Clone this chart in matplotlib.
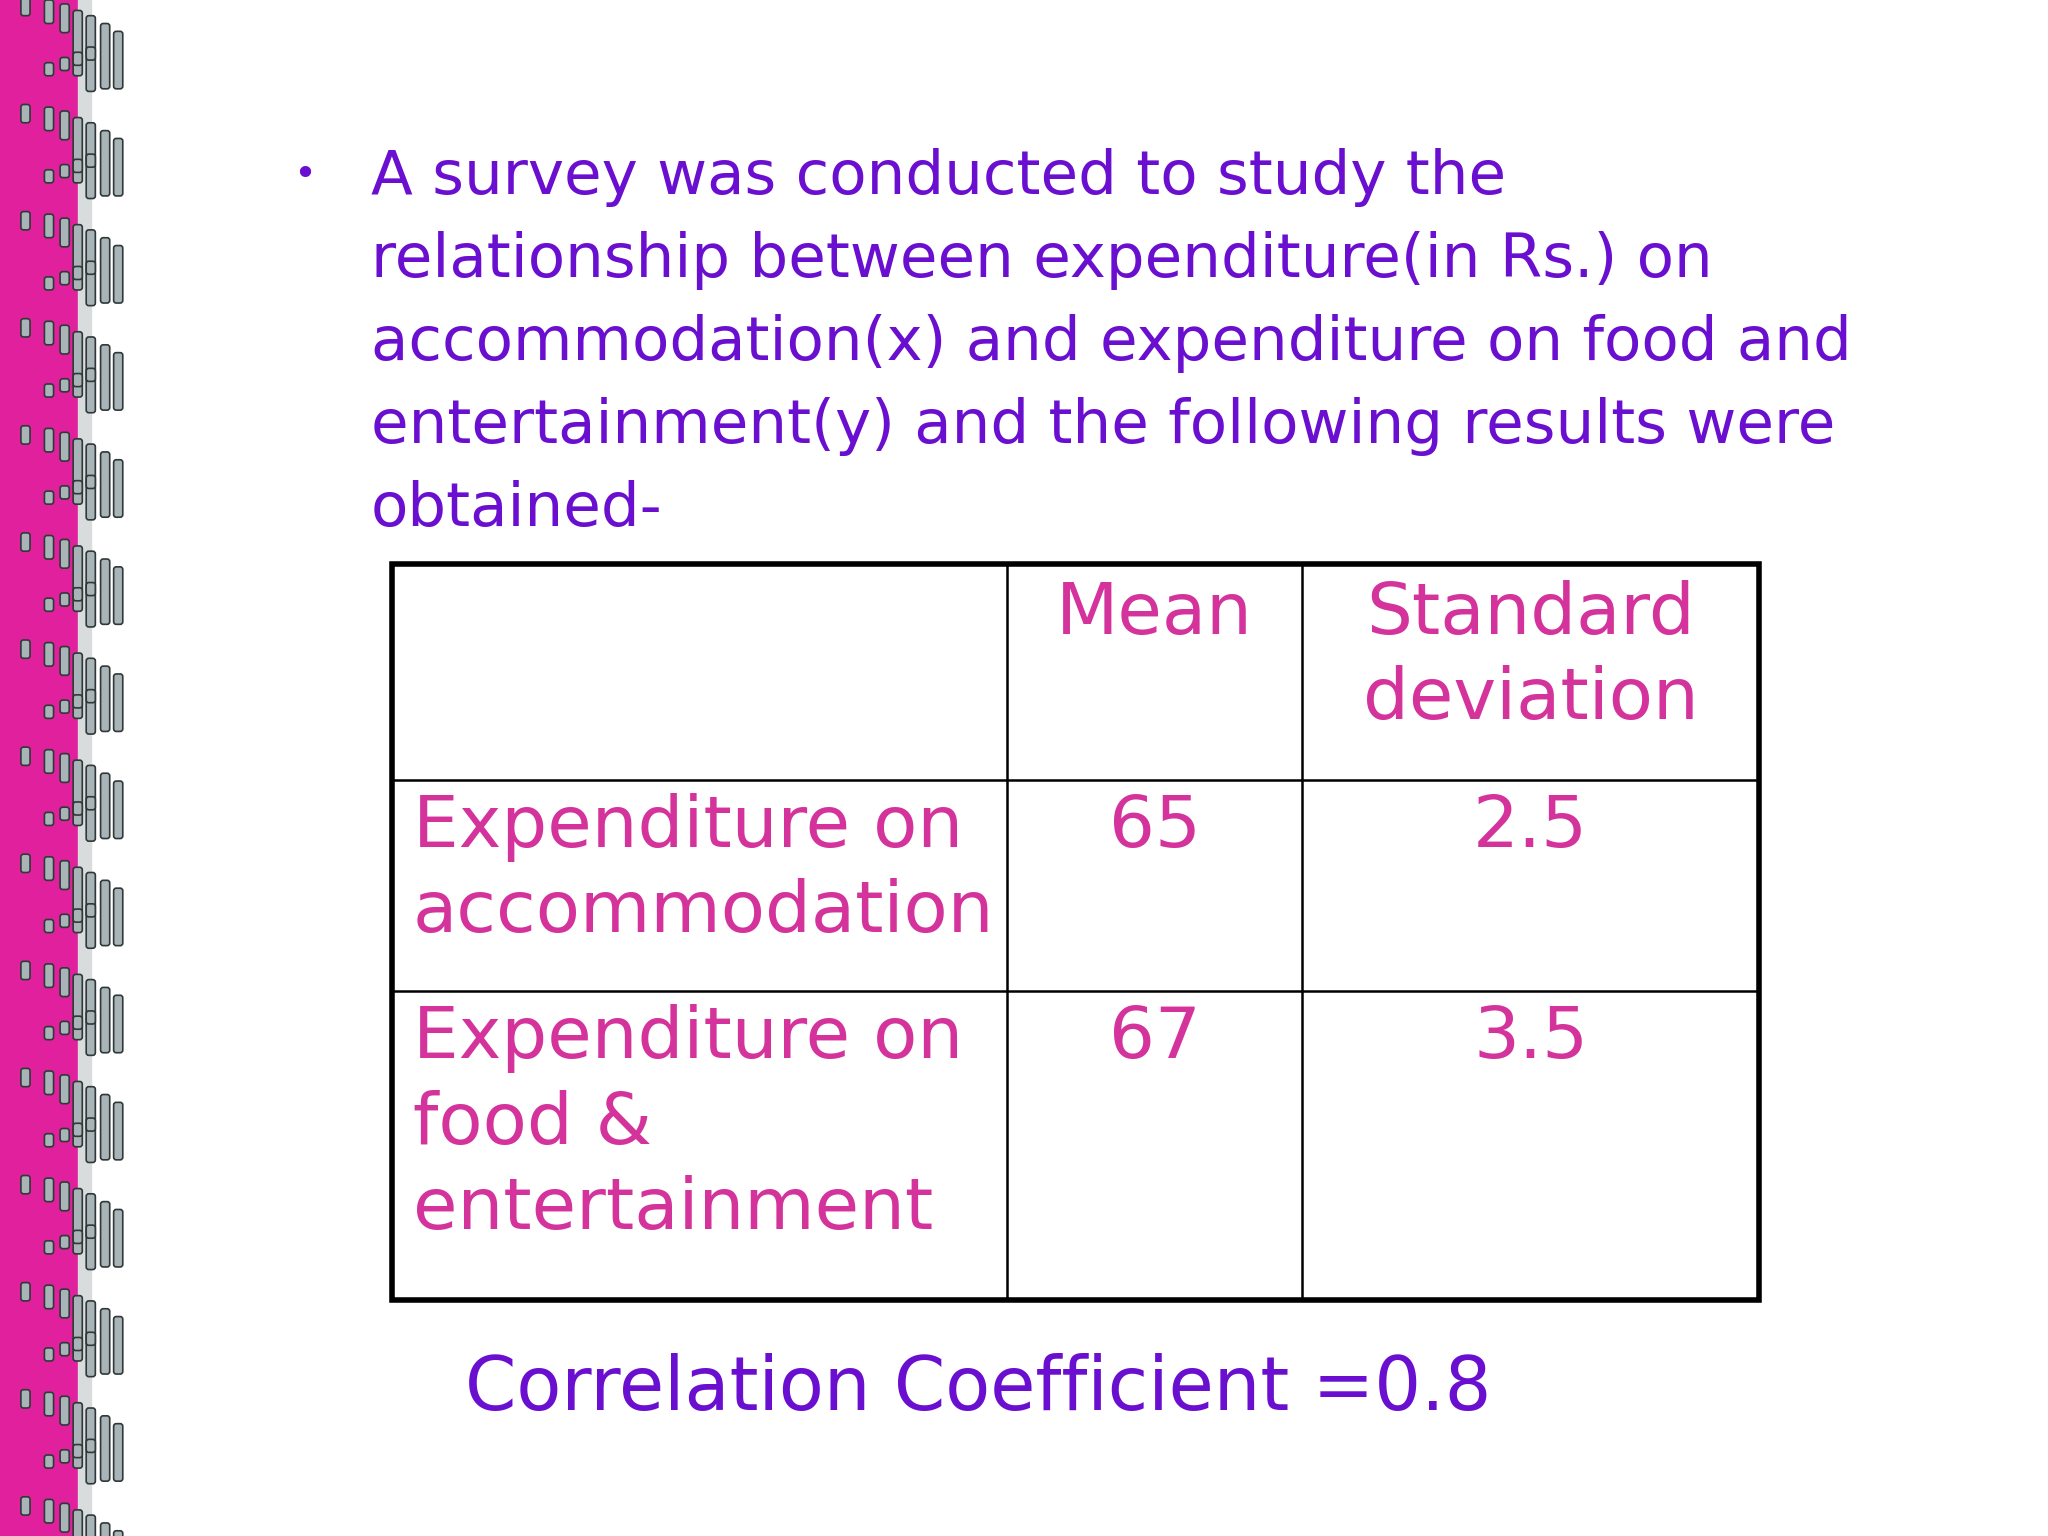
import matplotlib.pyplot as plt
from matplotlib.patches import Rectangle, FancyBboxPatch

# -----------------------------
# Slide content
# -----------------------------
intro_lines = [
    "A survey was conducted to study the",
    "relationship between expenditure(in Rs.) on",
    "accommodation(x) and expenditure on food and",
    "entertainment(y) and the following results were",
    "obtained-",
]
col_headers = ["", "Mean", "Standard\ndeviation"]
row_labels = ["Expenditure on\naccommodation", "Expenditure on\nfood &\nentertainment"]
means = [65, 67]
std_devs = [2.5, 3.5]
footer = "Correlation Coefficient =0.8"

PURPLE = "#6a0fd0"
MAGENTA = "#d4339c"
BORDER = "#e0209c"

W, H = 1568, 1176  # work in reference display units
fig = plt.figure(figsize=(20.48, 15.36), dpi=100)
ax = fig.add_axes([0, 0, 1, 1])
ax.set_xlim(0, W)
ax.set_ylim(H, 0)
ax.axis("off")
plt.rcParams['font.family'] = ['DejaVu Sans']

# -----------------------------
# Binding strip on the left
# -----------------------------
ax.add_patch(Rectangle((0, 0), 60, H, color=BORDER, zorder=1))
ax.add_patch(Rectangle((60, 0), 10, H, color="#d8dcdc", zorder=1))
bar_x = [16, 34, 46, 56, 66, 77, 87]
bar_top = [8, 10, 13, 18, 22, 28, 34]
bar_h = [14, 18, 22, 50, 58, 50, 44]
period = 82
y0 = -10
while y0 < H:
    for bx, bt, bh in zip(bar_x, bar_top, bar_h):
        ax.add_patch(FancyBboxPatch((bx, y0 + bt), 7, bh, boxstyle="round,pad=0,rounding_size=2",
                                    fc="#a8b4b8", ec="#303838", lw=1.2, zorder=2))
    for bx, bt in zip(bar_x[1:5], [58, 54, 50, 46]):
        ax.add_patch(FancyBboxPatch((bx, y0 + bt), 7, 10, boxstyle="round,pad=0,rounding_size=2",
                                    fc="#a8b4b8", ec="#303838", lw=1.2, zorder=2))
    y0 += period

# -----------------------------
# Intro text
# -----------------------------
ax.text(233, 134, "•", color=PURPLE, fontsize=28, ha="center", va="center")
for i, line in enumerate(intro_lines):
    ax.text(284, 136 + i * 63.5, line, color=PURPLE, fontsize=44, va="center", ha="left")

# -----------------------------
# Table
# -----------------------------
xs = [300, 771, 997, 1347]
ys = [432, 597, 759, 995]
ax.add_patch(Rectangle((xs[0], ys[0]), xs[-1] - xs[0], ys[-1] - ys[0], fill=False, ec="black", lw=4, zorder=3))
for x in xs[1:-1]:
    ax.plot([x, x], [ys[0], ys[-1]], color="black", lw=1.8, zorder=3)
for y in ys[1:-1]:
    ax.plot([xs[0], xs[-1]], [y, y], color="black", lw=1.8, zorder=3)

tfs = 52
ls = 1.3
for c, hdr in enumerate(col_headers):
    if hdr:
        ax.text((xs[c] + xs[c + 1]) / 2, 444, hdr, color=MAGENTA, fontsize=tfs, ha="center", va="top",
                linespacing=ls)
for r, lab in enumerate(row_labels):
    top = ys[r + 1] + 10
    ax.text(316, top, lab, color=MAGENTA, fontsize=tfs, ha="left", va="top", linespacing=ls)
    ax.text((xs[1] + xs[2]) / 2, top, str(means[r]), color=MAGENTA, fontsize=tfs, ha="center", va="top")
    ax.text((xs[2] + xs[3]) / 2, top, str(std_devs[r]), color=MAGENTA, fontsize=tfs, ha="center", va="top")

# -----------------------------
# Footer
# -----------------------------
ax.text(356, 1064, footer, color=PURPLE, fontsize=53, ha="left", va="center")

fig.savefig("out.png", dpi=100, facecolor="white")
